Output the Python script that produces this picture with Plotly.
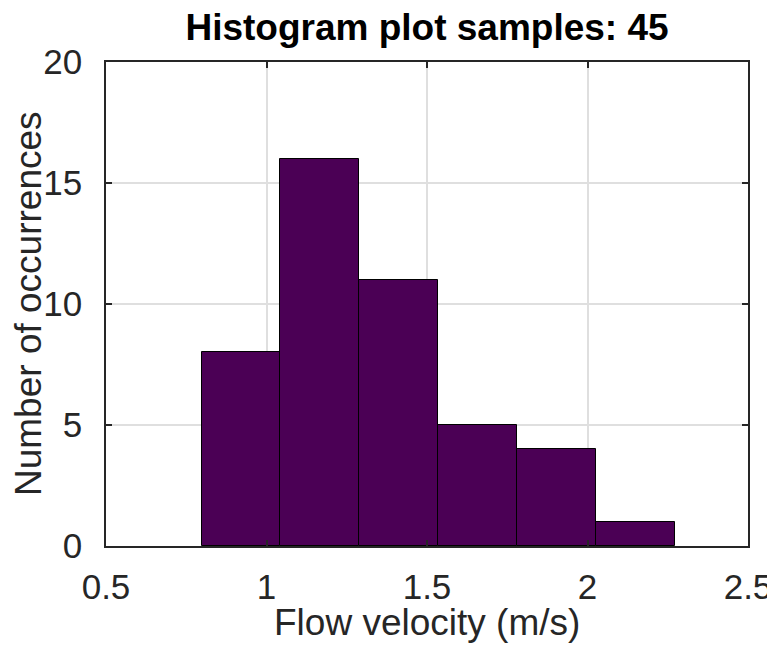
import plotly.graph_objects as go

# Histogram data
bin_edges = [0.7976, 1.0432, 1.2888, 1.5344, 1.7800, 2.0256, 2.2712]
counts = [8, 16, 11, 5, 4, 1]
x_ticks = [0.5, 1, 1.5, 2, 2.5]
x_tick_text = ["0.5", "1", "1.5", "2", "2.5"]
y_ticks = [0, 5, 10, 15, 20]
y_tick_text = ["0", "5", "10", "15", "20"]
title_text = "Histogram plot samples: " + str(sum(counts))

centers = [(a + b) / 2 for a, b in zip(bin_edges[:-1], bin_edges[1:])]
widths = [b - a for a, b in zip(bin_edges[:-1], bin_edges[1:])]

FONT = "Liberation Sans, Arial, sans-serif"
AX = "#262626"

# page offset of the figure inside the browser (body margin)
OFF = 8
W, H = 775 - OFF, 646 - OFF
L, R, T, B = 106 - OFF, 775 - 748, 62 - OFF, 646 - 546
PW, PH = W - L - R, H - T - B

fig = go.Figure()
fig.add_trace(go.Bar(
    x=centers, y=counts, width=widths,
    marker=dict(color="#4b0055", line=dict(color="#000000", width=1)),
    showlegend=False,
))

axis_common = dict(
    showline=True, linecolor=AX, linewidth=1.5, mirror="ticks",
    ticks="inside", ticklen=6, tickwidth=1.5, tickcolor=AX,
    showgrid=True, gridcolor="#dfdfdf", gridwidth=1.5,
    zeroline=False, automargin=False,
    tickfont=dict(family=FONT, size=35, color=AX),
)

fig.update_layout(
    width=W, height=H,
    margin=dict(l=L, r=R, t=T, b=B),
    paper_bgcolor="white", plot_bgcolor="white",
    bargap=0,
    title=dict(text="<b>" + title_text + "</b>", x=((178 + 676) / 2 - OFF) / W, xanchor="center",
               y=1 - (27 - OFF) / H, yanchor="middle", yref="container",
               font=dict(family=FONT, size=37, color="black")),
    xaxis=dict(range=[0.5, 2.5], tickvals=x_ticks, ticktext=x_tick_text,
               ticklabelstandoff=9, **axis_common),
    yaxis=dict(range=[0, 20], tickvals=y_ticks, ticktext=y_tick_text,
               ticklabelstandoff=15, **axis_common),
    annotations=[
        dict(text="Flow velocity (m/s)", xref="paper", yref="paper",
             x=0.5, y=-(622 - 546) / PH, xanchor="center", yanchor="middle", showarrow=False,
             font=dict(family=FONT, size=37, color=AX)),
        dict(text="Number of occurrences", xref="paper", yref="paper",
             x=-(106 - 28) / PW, y=0.5, xanchor="center", yanchor="middle", showarrow=False,
             textangle=-90, font=dict(family=FONT, size=37, color=AX)),
    ],
)

fig.write_html("out.html")
